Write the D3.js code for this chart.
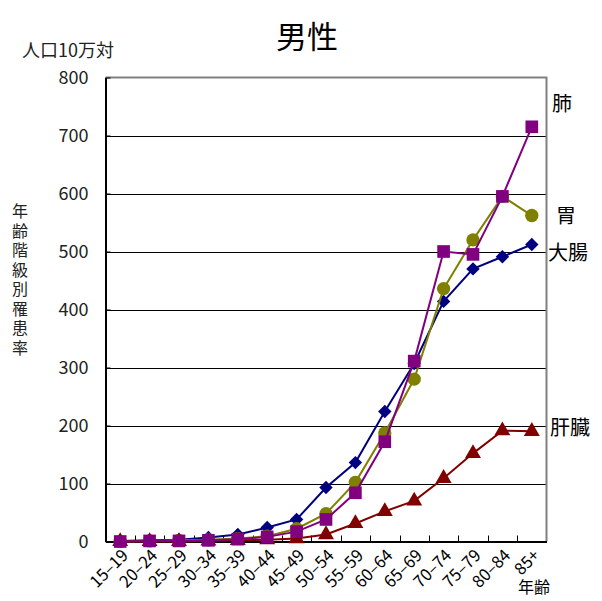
<!DOCTYPE html>
<html><head><meta charset="utf-8">
<script src="https://cdn.jsdelivr.net/npm/d3@7"></script>
<style>body{margin:0;background:#fff}svg{display:block}text{font-family:"Noto Sans CJK JP","Noto Sans",sans-serif}</style>
</head><body><svg id="c" width="602" height="601"></svg>
<script>
const categories = ["15–19","20–24","25–29","30–34","35–39","40–44","45–49","50–54","55–59","60–64","65–69","70–74","75–79","80–84","85+"];
const colon = [1,2,3,7,12,24,38,93,136,224,307,414,470,491,512];
const stomach = [0,1,2,3,5,9,22,48,102,187,280,436,520,595,562];
const liver = [0,0,0,1,2,3,5,12,31,52,70,109,152,191,190];
const lung = [0,1,1,2,4,8,17,38,84,172,311,500,495,595,715];
const yTicks = [0,100,200,300,400,500,600,700,800];
const series = [
  {name:"大腸", values:colon, color:"#000080", shape:"diamond", lx:548, ly:260},
  {name:"胃", values:stomach, color:"#808000", shape:"circle", lx:556, ly:223},
  {name:"肝臓", values:liver, color:"#800000", shape:"triangle", lx:550, ly:435},
  {name:"肺", values:lung, color:"#800080", shape:"square", lx:552, ly:111}
];

const svg = d3.select("#c");
const L=105.5, R=546.5, T=77.5, B=541.5;
const x = d3.scaleBand().domain(categories).range([L,R]);
const y = d3.scaleLinear().domain([0,800]).range([B,T]);

// gridlines
svg.append("g").selectAll("line").data(yTicks.filter(d=>d>0&&d<800)).join("line")
  .attr("x1",L).attr("x2",R).attr("y1",d=>Math.round(y(d))+0.5).attr("y2",d=>Math.round(y(d))+0.5)
  .attr("stroke","#000").attr("stroke-width",1);

// border top/right gray
svg.append("path").attr("d",`M${L},${T}H${R}V${B}`).attr("fill","none").attr("stroke","#808080").attr("stroke-width",2);

// y axis
const ya = svg.append("g").attr("transform",`translate(${L},0)`)
  .call(d3.axisLeft(y).tickValues(yTicks).tickSizeInner(-5).tickSizeOuter(0).tickPadding(17));
ya.select(".domain").attr("stroke","#000").attr("stroke-width",2);
ya.selectAll(".tick line").attr("stroke","#000");
ya.selectAll("text").attr("font-size",18).attr("fill","#222");

// x axis with inward ticks at boundaries
const xa = svg.append("g").attr("transform",`translate(0,${B})`)
  .call(d3.axisBottom(x).tickSize(0).tickPadding(0));
xa.select(".domain").attr("stroke","#000").attr("stroke-width",2);
xa.selectAll(".tick text").attr("font-size",16.5).attr("fill","#000")
  .attr("text-anchor","end").attr("dy","0")
  .attr("transform","translate(9,15) rotate(-45)");
svg.append("g").selectAll("line").data(categories.slice(1)).join("line")
  .attr("x1",d=>Math.round(x(d))+0.5).attr("x2",d=>Math.round(x(d))+0.5)
  .attr("y1",B).attr("y2",B-6).attr("stroke","#000");

// lines and markers
const line = d3.line().x((d,i)=>x(categories[i])+x.bandwidth()/2).y(d=>y(d));
const sym = {circle:d3.symbolCircle, triangle:d3.symbolTriangle, square:d3.symbolSquare};
const size = {circle:140, triangle:110, square:160};
series.forEach(s=>{
  const g = svg.append("g");
  g.append("path").attr("d",line(s.values)).attr("fill","none").attr("stroke",s.color).attr("stroke-width",2);
  g.selectAll("path.m").data(s.values).join("path").attr("class","m")
    .attr("d",d3.symbol().type(s.shape==="diamond"?d3.symbolSquare:sym[s.shape]).size(s.shape==="diamond"?90:size[s.shape]))
    .attr("transform",(d,i)=>`translate(${x(categories[i])+x.bandwidth()/2},${y(d)})`+(s.shape==="diamond"?" rotate(45)":""))
    .attr("fill",s.color);
  svg.append("text").attr("x",s.lx).attr("y",s.ly).attr("font-size",20).attr("fill","#000").text(s.name);
});

// titles
svg.append("text").attr("x",307).attr("y",48).attr("text-anchor","middle").attr("font-size",31).attr("fill","#000").text("男性");
svg.append("text").attr("x",22).attr("y",57).attr("font-size",18).attr("fill","#222").text("人口10万対");
svg.append("text").attr("x",518).attr("y",593).attr("font-size",16).attr("fill","#000").text("年齢");
svg.append("text").attr("x",20).attr("y",203).attr("font-size",16).attr("fill","#222")
  .attr("writing-mode","vertical-rl").style("letter-spacing","3.5px").text("年齢階級別罹患率");
</script></body></html>
